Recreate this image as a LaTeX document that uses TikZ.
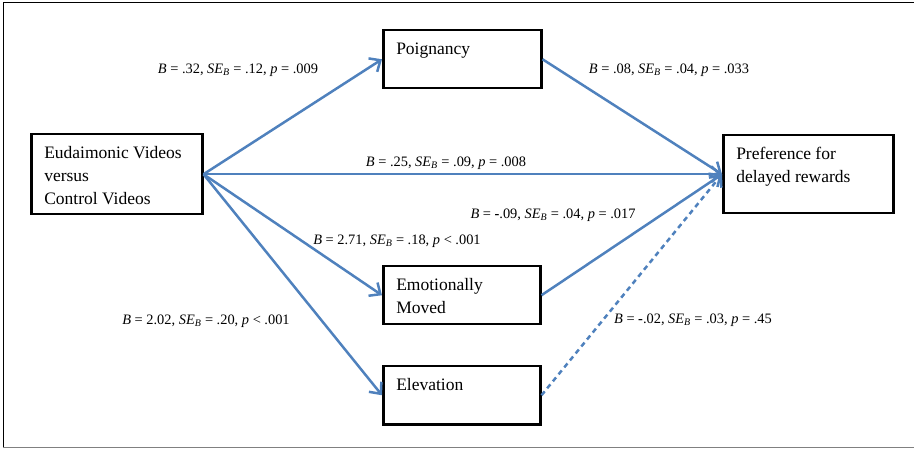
\documentclass[tikz,border=0pt]{standalone}
\usepackage{fontspec}
\setmainfont{Liberation Serif}
\usetikzlibrary{arrows.meta}
\definecolor{arrowblue}{HTML}{4F81BD}
\newcommand{\boxcontent}[3]{\parbox[c][#2][t]{#1}{\vspace*{8.5pt}\raggedright\leftskip=13pt\fontsize{17.5}{23}\selectfont\strut #3}}
\newcommand{\statlab}[4]{\textit{B} = #1, \textit{SE}\textsubscript{\textit{B}} = #2, \textit{p} #3 #4}
\begin{document}
\begin{tikzpicture}[x=1pt,y=-1pt,
  boxnode/.style={draw=black, line width=2.5pt, inner sep=0pt, anchor=north west},
  conn/.style={draw=arrowblue, line width=2.5pt, -{Straight Barb[length=9pt,width=16pt]}},
  dconn/.style={conn, dash pattern=on 5pt off 4pt},
  lab/.style={font=\fontsize{14.4}{16}\selectfont, inner sep=0pt}]
\useasboundingbox (0,0) rectangle (914,449);
\draw[line width=1pt] (3,448) -- (3,3) -- (914,3);
\draw[line width=1pt, gray] (3,447.5) -- (914,447.5);

\node[boxnode] (src) at (30,133) {\boxcontent{171pt}{80pt}{Eudaimonic Videos\\versus\\Control Videos}};
\node[boxnode] (poig) at (382,29) {\boxcontent{158pt}{58pt}{Poignancy}};
\node[boxnode] (pref) at (722,134) {\boxcontent{170pt}{78pt}{Preference for\\delayed rewards}};
\node[boxnode] (emo) at (382,265) {\boxcontent{157pt}{58pt}{Emotionally\\Moved}};
\node[boxnode] (elev) at (382,365) {\boxcontent{157pt}{58pt}{Elevation}};

\draw[conn] (src.east) -- (poig.west);
\draw[conn] (src.east) -- (pref.west);
\draw[conn] (src.east) -- (emo.west);
\draw[conn] (src.east) -- (elev.west);
\draw[conn] (poig.east) -- (pref.west);
\draw[conn] (emo.east) -- (pref.west);
\draw[dconn] (elev.east) -- (pref.west);

\node[lab] (l1) at (238,70) {\statlab{.32}{.12}{=}{.009}};
\node[lab] (l2) at (669,70) {\statlab{.08}{.04}{=}{.033}};
\node[lab] (l3) at (446,163) {\statlab{.25}{.09}{=}{.008}};
\node[lab] (l4) at (553,215) {\statlab{\textbf{-}.09}{.04}{=}{.017}};
\node[lab] (l5) at (397,241) {\statlab{2.71}{.18}{<}{.001}};
\node[lab] (l6) at (206,321) {\statlab{2.02}{.20}{<}{.001}};
\node[lab] (l7) at (693,320) {\statlab{\textbf{-}.02}{.03}{=}{.45}};
\end{tikzpicture}
\end{document}
